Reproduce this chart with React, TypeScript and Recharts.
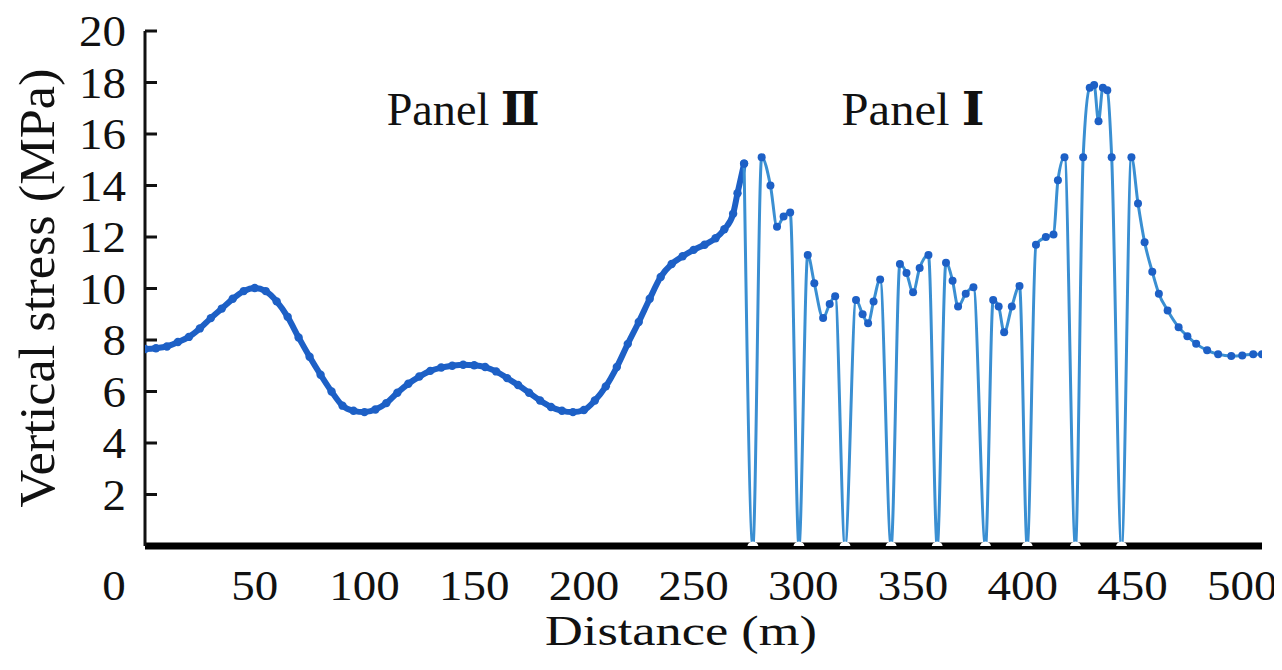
import React from 'react';
import { LineChart, Line, XAxis, YAxis, ReferenceDot } from 'recharts';

const FONT = '"Liberation Serif", "Times New Roman", Times, serif';

// Panel II (smooth part), distance (m) and vertical stress (MPa)
const panelIIDistance = [0, 5, 10, 15, 20, 25, 30, 35, 40, 45, 50, 55, 60, 65, 70, 75, 80, 85, 90, 95, 100, 105, 110, 115, 120, 125, 130, 135, 140, 145, 150, 155, 160, 165, 170, 175, 180, 185, 190, 195, 200, 205, 210, 215, 220, 225, 230, 235, 240, 245, 250, 255, 260, 264, 268, 270, 273];
const panelIIStress = [7.65, 7.68, 7.75, 7.92, 8.12, 8.45, 8.85, 9.22, 9.6, 9.9, 10.02, 9.9, 9.5, 8.9, 8.1, 7.35, 6.65, 6.0, 5.45, 5.25, 5.2, 5.3, 5.55, 5.95, 6.3, 6.58, 6.8, 6.93, 7.0, 7.04, 7.02, 6.95, 6.78, 6.52, 6.25, 5.95, 5.65, 5.4, 5.25, 5.2, 5.28, 5.65, 6.2, 6.95, 7.85, 8.7, 9.6, 10.45, 10.95, 11.25, 11.5, 11.7, 11.95, 12.3, 12.9, 13.7, 14.85];

// Panel I (mined zone with pillars)
const panelIDistance = [273, 277, 281, 285, 288, 291, 294, 298, 302, 305, 309, 312, 314.5, 319, 324, 327, 329.5, 332, 335, 340, 344, 347, 350, 353, 357, 361, 365, 368, 370.5, 374, 377.5, 383, 386.5, 389, 391.5, 395, 398.5, 402, 406, 410.5, 414, 416, 419, 424, 427.5, 430.5, 432.5, 434.5, 436.5, 438.5, 440.5, 445, 449.5, 452.5, 455.5, 459, 462, 466, 471, 475, 479, 484, 489, 495, 500, 505, 509];
const panelIStress = [14.85, 0, 15.1, 14.0, 12.4, 12.8, 12.95, 0, 11.3, 10.2, 8.85, 9.4, 9.7, 0, 9.55, 9.0, 8.65, 9.5, 10.35, 0, 10.95, 10.6, 9.85, 10.8, 11.3, 0, 11.0, 10.3, 9.3, 9.8, 10.05, 0, 9.55, 9.3, 8.3, 9.3, 10.1, 0, 11.7, 12.0, 12.1, 14.2, 15.1, 0, 15.1, 17.8, 17.9, 16.5, 17.8, 17.7, 15.1, 0, 15.1, 13.3, 11.8, 10.65, 9.8, 9.15, 8.5, 8.15, 7.85, 7.6, 7.45, 7.38, 7.4, 7.45, 7.45];

const xTicks = [0, 50, 100, 150, 200, 250, 300, 350, 400, 450, 500];
const yTicks = [2, 4, 6, 8, 10, 12, 14, 16, 18, 20];

const panelLabels = [
  { text: 'Panel ', num: 'Ⅱ', d: 145, v: 16.35, len: 153 },
  { text: 'Panel ', num: 'Ⅰ', d: 350, v: 16.35, len: 143 },
];

const DARK = '#1d60c6';
const LIGHT = '#3a8fd2';

const XTick = (props: any) => {
  const { x, y, payload } = props;
  const dx = payload.value === 0 ? -31 : 0;
  const s = String(payload.value);
  return (
    <text
      x={x + dx}
      y={y + 54}
      textAnchor="middle"
      fontSize={43}
      fontFamily={FONT}
      fill="#111"
      textLength={s.length * 23.5}
      lengthAdjust="spacingAndGlyphs"
    >
      {s}
    </text>
  );
};

const YTick = (props: any) => {
  const { x, y, payload } = props;
  const s = String(payload.value);
  return (
    <g>
      <line x1={x} x2={x + 12} y1={y} y2={y} stroke="#111" strokeWidth={3} />
      <text
        x={x - 19}
        y={y + 15}
        textAnchor="end"
        fontSize={44}
        fontFamily={FONT}
        fill="#111"
        textLength={s.length * 23.5}
        lengthAdjust="spacingAndGlyphs"
      >
        {s}
      </text>
    </g>
  );
};

const YLabel = () => (
  <text
    x={46}
    y={280}
    transform="rotate(-90, 46, 280)"
    textAnchor="middle"
    fontSize={50}
    fontFamily={FONT}
    fill="#111"
    textLength={439}
    lengthAdjust="spacingAndGlyphs"
  >
    Vertical stress (MPa)
  </text>
);

const XLabel = () => (
  <text
    x={673}
    y={637}
    textAnchor="middle"
    fontSize={42}
    fontFamily={FONT}
    fill="#111"
    textLength={272}
    lengthAdjust="spacingAndGlyphs"
  >
    Distance (m)
  </text>
);

const makeDot = (r: number, fill: string) => (p: any) => {
  const { cx, cy, payload, index } = p;
  if (cx == null || cy == null) return <g key={`n-${index}`} />;
  if (payload.v === 0) {
    return <circle key={`z-${index}`} cx={cx} cy={cy + 1} r={5.5} fill="#ffffff" stroke="none" />;
  }
  return <circle key={`d-${index}`} cx={cx} cy={cy} r={r} fill={fill} stroke="none" />;
};

export default function App() {
  const panelIIData = panelIIDistance.map((d, i) => ({ d, v: panelIIStress[i] }));
  const panelIData = panelIDistance.map((d, i) => ({ d, v: panelIStress[i] }));

  return (
    <div style={{ width: 1274, height: 654, background: '#fff' }}>
      <LineChart width={1274} height={654} margin={{ top: 23, right: 20, left: 0, bottom: 0 }}>
        <XAxis
          type="number"
          dataKey="d"
          domain={[0, 509]}
          ticks={xTicks}
          interval={0}
          allowDataOverflow
          tickLine={false}
          tickSize={0}
          tickMargin={0}
          axisLine={{ stroke: '#000', strokeWidth: 7 }}
          tick={<XTick />}
          height={116}
          label={<XLabel />}
        />
        <YAxis
          type="number"
          domain={[0, 20]}
          ticks={yTicks}
          interval={0}
          allowDataOverflow
          width={137}
          tickLine={false}
          tickSize={0}
          tickMargin={0}
          axisLine={{ stroke: '#111', strokeWidth: 3 }}
          tick={<YTick />}
          label={<YLabel />}
        />
        <Line
          data={panelIIData}
          dataKey="v"
          type="monotone"
          stroke={DARK}
          strokeWidth={6}
          dot={makeDot(4.2, DARK)}
          activeDot={false}
          isAnimationActive={false}
        />
        <Line
          data={panelIData}
          dataKey="v"
          type="monotone"
          stroke={LIGHT}
          strokeWidth={3}
          dot={makeDot(4, DARK)}
          activeDot={false}
          isAnimationActive={false}
        />
        {panelLabels.map((p) => (
          <ReferenceDot
            key={p.num}
            x={p.d}
            y={p.v}
            r={0}
            shape={(s: any) => (
              <text
                x={s.cx}
                y={s.cy}
                textAnchor="middle"
                fontSize={46}
                fontFamily={FONT}
                fill="#111"
                textLength={p.len}
                lengthAdjust="spacingAndGlyphs"
              >
                {p.text}
                <tspan fontFamily='"DejaVu Serif", serif' fontWeight="bold">{p.num}</tspan>
              </text>
            )}
          />
        ))}
      </LineChart>
    </div>
  );
}
